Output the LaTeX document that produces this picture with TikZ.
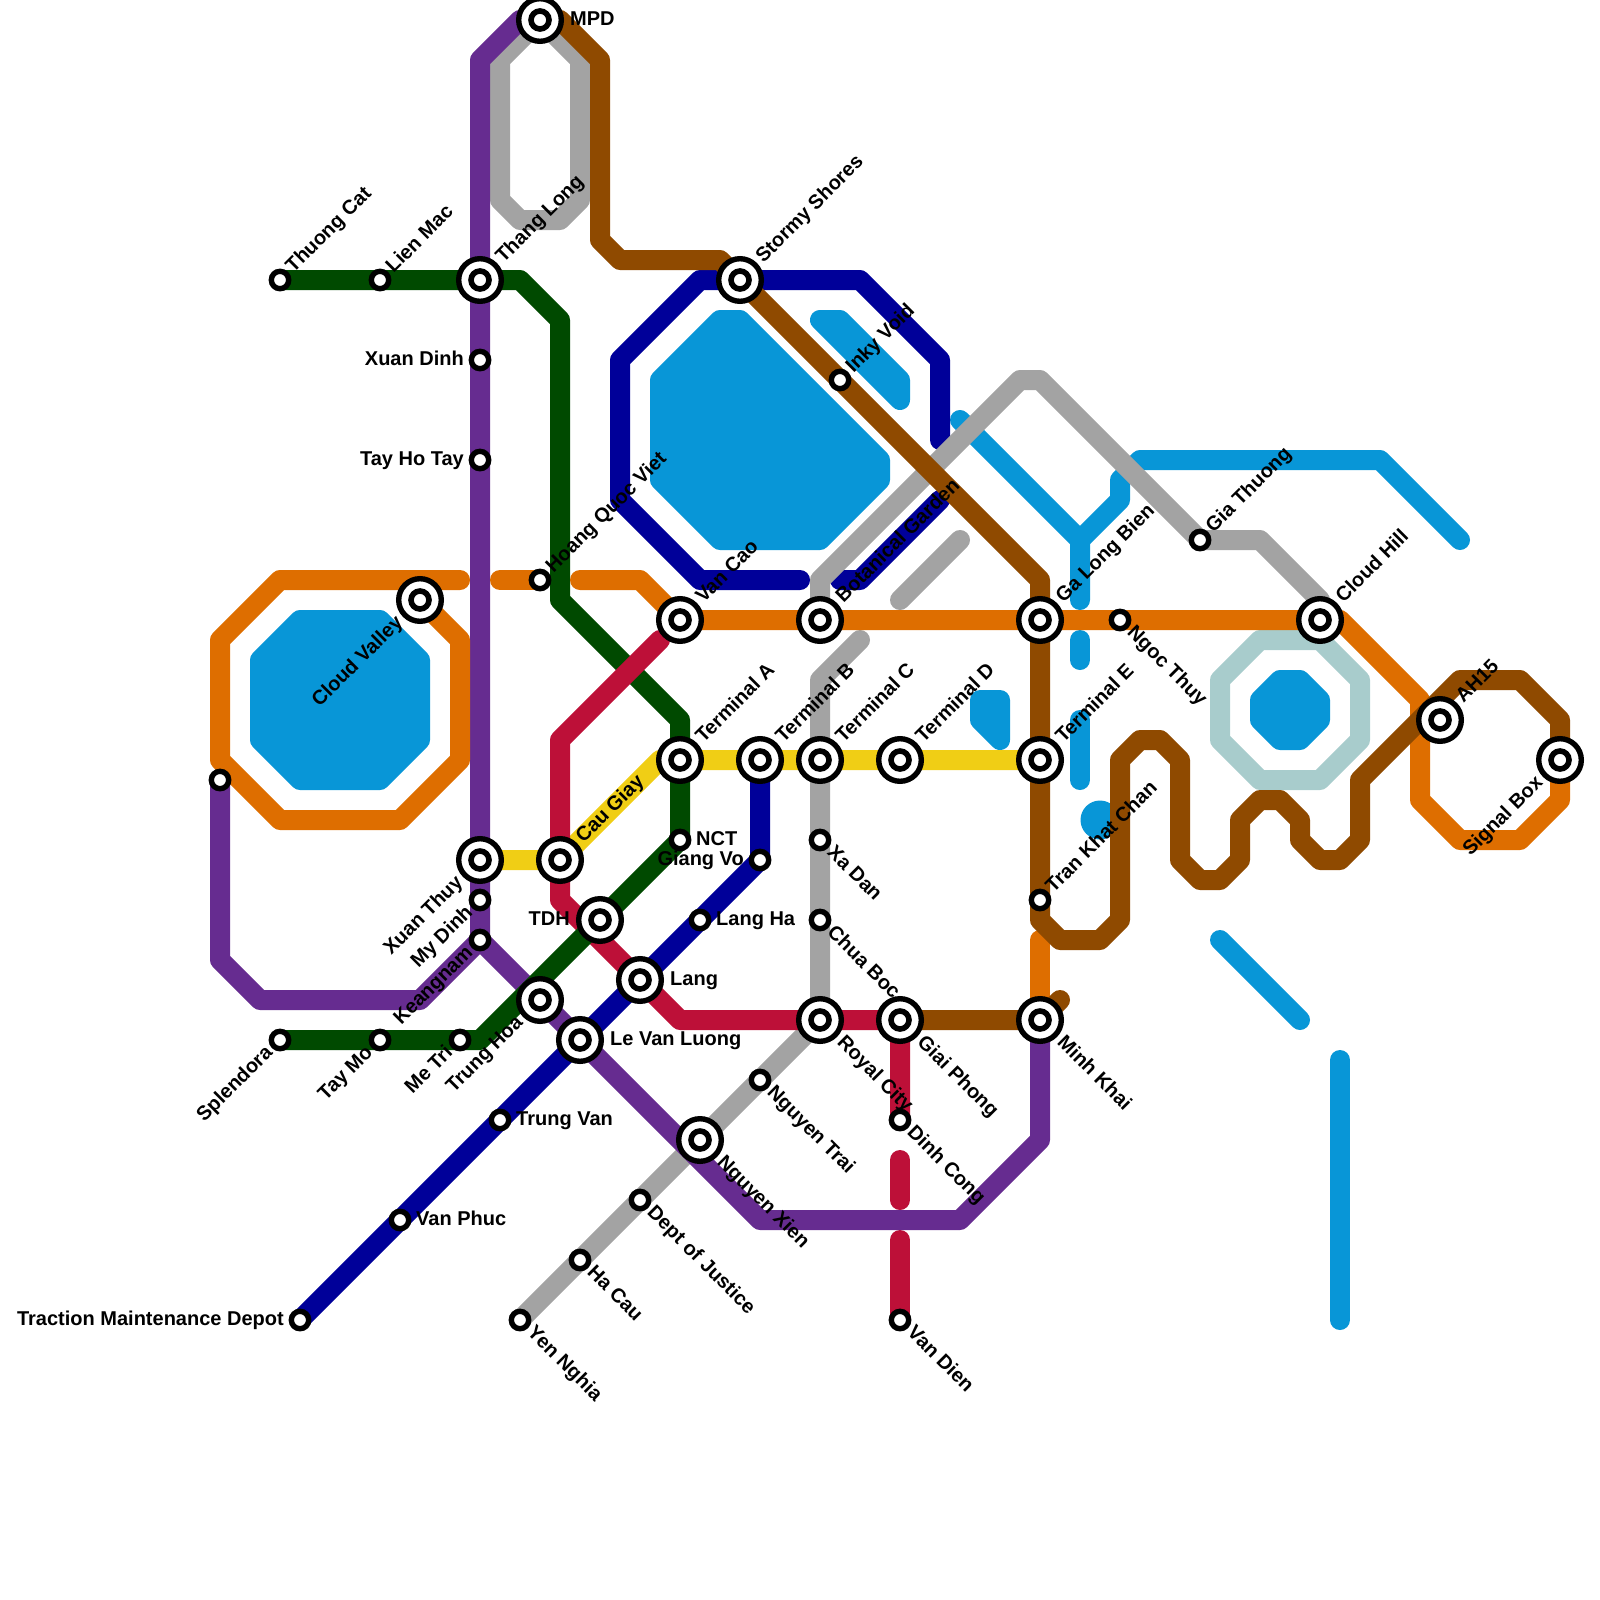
\documentclass[tikz,border=0pt]{standalone}
\usepackage{fontspec}
\setmainfont{Liberation Sans}
\pgfdeclarelayer{lines}
\pgfsetlayers{lines,main}
\definecolor{cpurple}{HTML}{662C90}
\definecolor{cgreen}{HTML}{004A00}
\definecolor{cdblue}{HTML}{000099}
\definecolor{cbrown}{HTML}{8F4A00}
\definecolor{corange}{HTML}{DE6E00}
\definecolor{cred}{HTML}{BD1038}
\definecolor{cyellow}{HTML}{F0CE15}
\definecolor{cgrey}{HTML}{A3A3A3}
\definecolor{cblue}{HTML}{0896D7}
\definecolor{cteal}{HTML}{A8CCCC}
\tikzset{
  ln/.style={line width=20pt,line cap=round,line join=round},
  poly/.style={line width=20pt,line join=round,draw=cblue,fill=cblue},
  smallst/.style={circle,draw=black,fill=white,line width=5.4pt,minimum size=17.4pt,inner sep=0pt},
  bigst/.style={circle,draw=black,fill=white,line width=5.4pt,minimum size=42.6pt,inner sep=0pt,
    path picture={\draw[line width=5.6pt] (path picture bounding box.center) circle (9pt);}},
  lab/.style={font=\fontsize{20}{20}\selectfont\bfseries,text=black,inner sep=0pt,text height=14.3pt,text depth=4pt},
  lne/.style={lab,rotate=45,anchor=west,xshift=#1},
  lse/.style={lab,rotate=-45,anchor=west,xshift=#1},
  lsw/.style={lab,rotate=45,anchor=east,xshift=-#1},
  le/.style={lab,anchor=west,xshift=#1+2pt},
  lw/.style={lab,anchor=east,xshift=-#1-2pt},
}
\newcommand{\Sm}[4]{\node[smallst] (#1) at (#2) {};\node[#3=14pt] (#1-l) at (#1.center) {#4};}
\newcommand{\Bg}[4]{\node[bigst] (#1) at (#2) {};\node[#3=28pt] (#1-l) at (#1.center) {#4};}
\begin{document}
\begin{tikzpicture}[x=1pt,y=-1pt]
\useasboundingbox (0,0) rectangle (1600,1600);
% stations
\Sm{ThuongCat}{280,280}{lne}{Thuong Cat}
\Sm{LienMac}{380,280}{lne}{Lien Mac}
\Bg{ThangLong}{480,280}{lne}{Thang Long}
\Sm{XuanDinh}{480,360}{lw}{Xuan Dinh}
\Sm{TayHoTay}{480,460}{lw}{Tay Ho Tay}
\Bg{MPD}{540,20}{le}{MPD}
\Bg{Stormy}{740,280}{lne}{Stormy Shores}
\Sm{Inky}{840,380}{lne}{Inky Void}
\Sm{Hoang}{540,580}{lne}{Hoang Quoc Viet}
\Bg{CloudValley}{420,600}{lsw}{Cloud Valley}
\Bg{VanCao}{680,620}{lne}{Van Cao}
\Bg{Botanical}{820,620}{lne}{Botanical Garden}
\Bg{GaLongBien}{1040,620}{lne}{Ga Long Bien}
\Sm{NgocThuy}{1120,620}{lse}{Ngoc Thuy}
\Sm{GiaThuong}{1200,540}{lne}{Gia Thuong}
\Bg{CloudHill}{1320,620}{lne}{Cloud Hill}
\Bg{AH}{1440,720}{lne}{AH15}
\Bg{SignalBox}{1560,760}{lsw}{Signal Box}
\Bg{TermA}{680,760}{lne}{Terminal A}
\Bg{TermB}{760,760}{lne}{Terminal B}
\Bg{TermC}{820,760}{lne}{Terminal C}
\Bg{TermD}{900,760}{lne}{Terminal D}
\Bg{TermE}{1040,760}{lne}{Terminal E}
\Sm{NCT}{680,840}{le}{NCT}
\Sm{GiangVo}{760,860}{lw}{Giang Vo}
\Sm{XaDan}{820,840}{lse}{Xa Dan}
\Sm{ChuaBoc}{820,920}{lse}{Chua Boc}
\Bg{CauGiay}{560,860}{lne}{Cau Giay}
\Bg{XuanThuy}{480,860}{lsw}{Xuan Thuy}
\Sm{MyDinh}{480,900}{lsw}{My Dinh}
\Sm{Keangnam}{480,940}{lsw}{Keangnam}
\Bg{TDH}{600,920}{lw}{TDH}
\Sm{LangHa}{700,920}{le}{Lang Ha}
\Bg{Lang}{640,980}{le}{Lang}
\Bg{TrungHoa}{540,1000}{lsw}{Trung Hoa}
\Bg{LeVanLuong}{580,1040}{le}{Le Van Luong}
\Sm{MeTri}{460,1040}{lsw}{Me Tri}
\Sm{TayMo}{380,1040}{lsw}{Tay Mo}
\Sm{Splendora}{280,1040}{lsw}{Splendora}
\Bg{RoyalCity}{820,1020}{lse}{Royal City}
\Bg{GiaiPhong}{900,1020}{lse}{Giai Phong}
\Bg{MinhKhai}{1040,1020}{lse}{Minh Khai}
\Sm{DinhCong}{900,1120}{lse}{Dinh Cong}
\Sm{VanDien}{900,1320}{lse}{Van Dien}
\Sm{NguyenTrai}{760,1080}{lse}{Nguyen Trai}
\Bg{NguyenXien}{700,1140}{lse}{Nguyen Xien}
\Sm{Dept}{640,1200}{lse}{Dept of Justice}
\Sm{HaCau}{580,1260}{lse}{Ha Cau}
\Sm{YenNghia}{520,1320}{lse}{Yen Nghia}
\Sm{TrungVan}{500,1120}{le}{Trung Van}
\Sm{VanPhuc}{400,1220}{le}{Van Phuc}
\Sm{Traction}{300,1320}{lw}{Traction Maintenance Depot}
\Sm{TranKhat}{1040,900}{lne}{Tran Khat Chan}
\node[smallst] (Unnamed) at (220,780) {};
% free ends
\coordinate (bA) at (960,420);
\coordinate (bB) at (1080,600);
\coordinate (bC) at (1460,540);
\coordinate (bD1) at (1080,640);\coordinate (bD2) at (1080,660);
\coordinate (bE1) at (1080,720);\coordinate (bE2) at (1080,780);
\coordinate (bF1) at (1220,940);\coordinate (bF2) at (1300,1020);
\coordinate (bG1) at (1340,1060);\coordinate (bG2) at (1340,1320);
\coordinate (dA) at (800,580);\coordinate (dB) at (940,440);
\coordinate (dC) at (840,580);\coordinate (dD) at (940,500);
\coordinate (gA) at (860,640);
\coordinate (gB) at (900,600);\coordinate (gC) at (960,540);
\coordinate (rT) at (660,640);
\coordinate (rA1) at (900,1160);\coordinate (rA2) at (900,1200);
\coordinate (rB) at (900,1240);
\coordinate (oA) at (460,580);\coordinate (oB) at (500,580);\coordinate (oC) at (580,580);
\coordinate (oD) at (1040,940);
\coordinate (brA) at (1060,1000);
\begin{pgfonlayer}{lines}
% water
\draw[poly] (720,320)--(740,320)--(880,460)--(880,480)--(820,540)--(720,540)--(660,480)--(660,380)--cycle;
\draw[poly] (300,620)--(380,620)--(420,660)--(420,740)--(380,780)--(300,780)--(260,740)--(260,660)--cycle;
\draw[poly] (820,320)--(840,320)--(900,380)--(900,400)--cycle;
\draw[poly] (980,700)--(1000,700)--(1000,740)--(980,720)--cycle;
\draw[poly] (1280,680)--(1300,680)--(1320,700)--(1320,720)--(1300,740)--(1280,740)--(1260,720)--(1260,700)--cycle;
\fill[cblue] (1100,820) circle (19.5pt);
\draw[ln,cteal] (1260,640)--(1320,640)--(1360,680)--(1360,740)--(1320,780)--(1260,780)--(1220,740)--(1220,680)--cycle;
\draw[ln,cblue] (bA)--(1080,540)--(bB);
\draw[ln,cblue] (1080,540)--(1120,500)--(1120,480)--(1140,460)--(1380,460)--(bC);
\draw[ln,cblue] (bD1)--(bD2);
\draw[ln,cblue] (bE1)--(bE2);
\draw[ln,cblue] (bF1)--(bF2);
\draw[ln,cblue] (bG1)--(bG2);
% dark blue
\draw[ln,cdblue] (Traction.center)--(VanPhuc.center)--(TrungVan.center)--(LeVanLuong.center)--(Lang.center)--(LangHa.center)--(GiangVo.center)--(TermB.center);
\draw[ln,cdblue] (dA)--(700,580)--(620,500)--(620,360)--(700,280)--(Stormy.center)--(860,280)--(940,360)--(dB);
\draw[ln,cdblue] (dC)--(860,580)--(dD);
% grey
\draw[ln,cgrey] (MPD.center)--(500,60)--(500,200)--(520,220)--(560,220)--(580,200)--(580,60)--cycle;
\draw[ln,cgrey] (YenNghia.center)--(HaCau.center)--(Dept.center)--(NguyenXien.center)--(NguyenTrai.center)--(RoyalCity.center)--(ChuaBoc.center)--(XaDan.center)--(TermC.center)--(820,680)--(gA);
\draw[ln,cgrey] (Botanical.center)--(820,580)--(1020,380)--(1040,380)--(GiaThuong.center)--(1260,540)--(1320,600)--(CloudHill.center);
\draw[ln,cgrey] (gB)--(gC);
% red, lower part
\draw[ln,cred] (CauGiay.center)--(560,900)--(Lang.center)--(680,1020)--(RoyalCity.center)--(GiaiPhong.center)--(DinhCong.center);
\draw[ln,cred] (rA1)--(rA2);
\draw[ln,cred] (rB)--(VanDien.center);
% yellow
\draw[ln,cyellow] (XuanThuy.center)--(CauGiay.center)--(660,760)--(TermA.center)--(TermB.center)--(TermC.center)--(TermD.center)--(TermE.center);
% purple
\draw[ln,cpurple] (MPD.center)--(520,20)--(480,60)--(ThangLong.center)--(XuanDinh.center)--(TayHoTay.center)--(XuanThuy.center)--(MyDinh.center)--(Keangnam.center)--(TrungHoa.center)--(LeVanLuong.center)--(760,1220)--(960,1220)--(1040,1140)--(MinhKhai.center);
\draw[ln,cpurple] (Keangnam.center)--(420,1000)--(260,1000)--(220,960)--(Unnamed.center);
% green
\draw[ln,cgreen] (ThuongCat.center)--(LienMac.center)--(ThangLong.center)--(520,280)--(560,320)--(560,600)--(680,720)--(TermA.center)--(NCT.center)--(480,1040)--(MeTri.center)--(TayMo.center)--(Splendora.center);
% red, upper part
\draw[ln,cred] (rT)--(560,740)--(CauGiay.center);
% orange
\draw[ln,corange] (oA)--(280,580)--(220,640)--(220,760)--(280,820)--(400,820)--(460,760)--(460,640)--(CloudValley.center);
\draw[ln,corange] (oB)--(Hoang.center);
\draw[ln,corange] (oC)--(640,580)--(VanCao.center)--(Botanical.center)--(GaLongBien.center)--(NgocThuy.center)--(CloudHill.center)--(1340,620)--(1420,700)--(1420,800)--(1460,840)--(1520,840)--(1560,800)--(SignalBox.center);
\draw[ln,corange] (oD)--(MinhKhai.center);
% brown
\draw[ln,cbrown] (MPD.center)--(560,20)--(600,60)--(600,240)--(620,260)--(720,260)--(Stormy.center)--(Inky.center)--(1040,580)--(GaLongBien.center)--(TermE.center)--(TranKhat.center)--(1040,920)--(1060,940)--(1100,940)--(1120,920)--(1120,760)--(1140,740)--(1160,740)--(1180,760)--(1180,860)--(1200,880)--(1220,880)--(1240,860)--(1240,820)--(1260,800)--(1280,800)--(1300,820)--(1300,840)--(1320,860)--(1340,860)--(1360,840)--(1360,780)--(1460,680)--(1520,680)--(1560,720)--(SignalBox.center);
\draw[ln,cbrown] (GiaiPhong.center)--(MinhKhai.center)--(brA);
\end{pgfonlayer}
\end{tikzpicture}
\end{document}
